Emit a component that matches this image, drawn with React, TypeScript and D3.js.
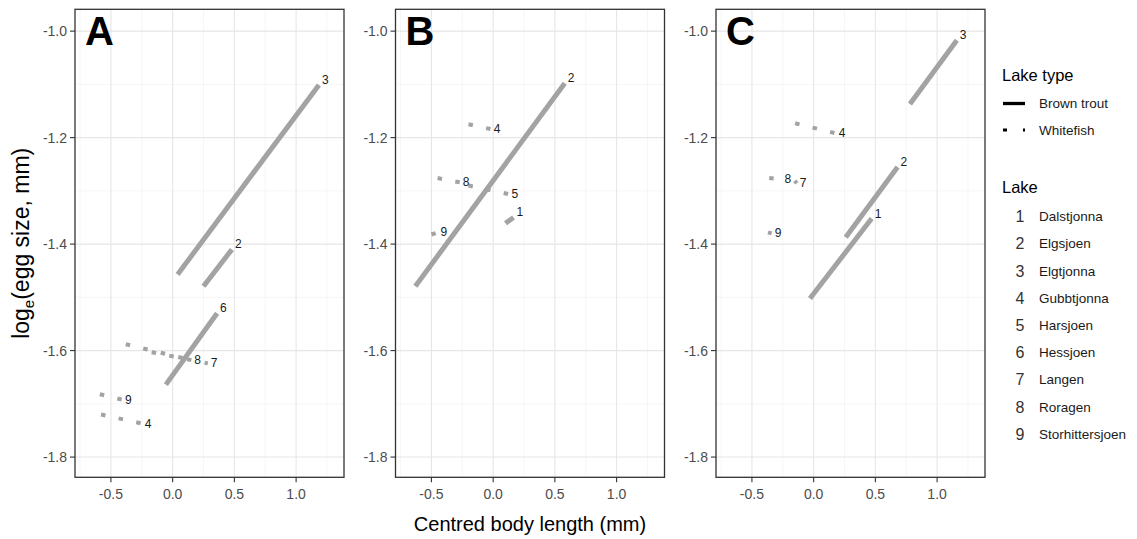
import React from 'react'
import * as d3 from 'd3'

const panelNames = ['A', 'B', 'C']
const lakeNames = [
  'Dalstjonna',
  'Elgsjoen',
  'Elgtjonna',
  'Gubbtjonna',
  'Harsjoen',
  'Hessjoen',
  'Langen',
  'Roragen',
  'Storhittersjoen',
]
const lakeTypes = ['Brown trout', 'Whitefish']
// lake type of lakes 1..9
const lakeTypeOf = [0, 0, 0, 1, 1, 0, 1, 1, 1]

const xTicks = [-0.5, 0, 0.5, 1.0]
const xMinor = [-0.75, -0.25, 0.25, 0.75, 1.25]
const yTicks = [-1.0, -1.2, -1.4, -1.6, -1.8]
const yMinor = [-1.1, -1.3, -1.5, -1.7]

// fitted lines: lake, start (x0, y0), end (x1, y1)
const linesA = [
  { lake: 3, x0: 0.04, y0: -1.457, x1: 1.185, y1: -1.101 },
  { lake: 2, x0: 0.25, y0: -1.479, x1: 0.48, y1: -1.41 },
  { lake: 6, x0: -0.055, y0: -1.664, x1: 0.36, y1: -1.53 },
  { lake: 8, x0: -0.38, y0: -1.588, x1: 0.15, y1: -1.618 },
  { lake: 7, x0: -0.17, y0: -1.603, x1: 0.285, y1: -1.624 },
  { lake: 9, x0: -0.59, y0: -1.682, x1: -0.41, y1: -1.692 },
  { lake: 4, x0: -0.58, y0: -1.72, x1: -0.25, y1: -1.737 },
]
const linesB = [
  { lake: 2, x0: -0.63, y0: -1.479, x1: 0.58, y1: -1.098 },
  { lake: 4, x0: -0.2, y0: -1.175, x1: -0.02, y1: -1.184 },
  { lake: 8, x0: -0.45, y0: -1.276, x1: -0.27, y1: -1.284 },
  { lake: 5, x0: -0.2, y0: -1.29, x1: 0.125, y1: -1.306 },
  { lake: 1, x0: 0.1, y0: -1.361, x1: 0.165, y1: -1.35 },
  { lake: 9, x0: -0.5, y0: -1.382, x1: -0.45, y1: -1.378 },
]
const linesC = [
  { lake: 3, x0: 0.78, y0: -1.137, x1: 1.16, y1: -1.017 },
  { lake: 2, x0: 0.26, y0: -1.387, x1: 0.68, y1: -1.255 },
  { lake: 1, x0: -0.03, y0: -1.502, x1: 0.47, y1: -1.352 },
  { lake: 4, x0: -0.15, y0: -1.173, x1: 0.18, y1: -1.192 },
  { lake: 8, x0: -0.36, y0: -1.276, x1: -0.26, y1: -1.278 },
  { lake: 7, x0: -0.153, y0: -1.281, x1: -0.137, y1: -1.286 },
  { lake: 9, x0: -0.37, y0: -1.378, x1: -0.34, y1: -1.38 },
]
const panelLines = [linesA, linesB, linesC]

const W = 1137
const H = 539
const font = "'Liberation Sans', Arial, sans-serif"
const panelTop = 9.3
const panelW = 269
const panelH = 468
const panelLeft = [75, 395.5, 716]
const lineGrey = '#a3a3a3'

// R style tick labels, plain hyphen for the sign
const fmt = (v) => d3.format('.1f')(v).replace('\u2212', '-')

const Panel = ({ name, lines, left }) => {
  const x = d3.scaleLinear().domain([-0.791, 1.388]).range([0, panelW])
  const y = d3.scaleLinear().domain([-1.838, -0.959]).range([panelH, 0])
  return (
    <g transform={`translate(${left},${panelTop})`}>
      <rect width={panelW} height={panelH} fill="white" />
      {xMinor.map((t) => (
        <line key={'xm' + t} x1={x(t)} x2={x(t)} y1={0} y2={panelH} stroke="#f0f0f0" strokeWidth={0.6} />
      ))}
      {yMinor.map((t) => (
        <line key={'ym' + t} x1={0} x2={panelW} y1={y(t)} y2={y(t)} stroke="#f0f0f0" strokeWidth={0.6} />
      ))}
      {xTicks.map((t) => (
        <line key={'xg' + t} x1={x(t)} x2={x(t)} y1={0} y2={panelH} stroke="#e6e6e6" strokeWidth={1.1} />
      ))}
      {yTicks.map((t) => (
        <line key={'yg' + t} x1={0} x2={panelW} y1={y(t)} y2={y(t)} stroke="#e6e6e6" strokeWidth={1.1} />
      ))}

      {lines.map((d, i) => {
        const dotted = lakeTypeOf[d.lake - 1] === 1
        return (
          <line
            key={'l' + i}
            x1={x(d.x0)}
            y1={y(d.y0)}
            x2={x(d.x1)}
            y2={y(d.y1)}
            stroke={lineGrey}
            strokeWidth={dotted ? 4 : 5}
            strokeDasharray={dotted ? '4.5 13.5' : undefined}
          />
        )
      })}
      {lines.map((d, i) => {
        const dotted = lakeTypeOf[d.lake - 1] === 1
        return (
          <text
            key={'t' + i}
            x={x(d.x1) + 3}
            y={y(d.y1) + (dotted ? 0 : -5)}
            dominantBaseline="central"
            fontSize={12}
            fill="#1a1a1a"
          >
            {d.lake}
          </text>
        )
      })}

      <rect width={panelW} height={panelH} fill="none" stroke="#333" strokeWidth={1.3} />

      {yTicks.map((t) => (
        <g key={'yt' + t} transform={`translate(0,${y(t)})`}>
          <line x1={-5} x2={0} stroke="#333" strokeWidth={1.1} />
          <text x={-8} textAnchor="end" dominantBaseline="central" fontSize={14} fill="#4d4d4d">
            {fmt(t)}
          </text>
        </g>
      ))}
      {xTicks.map((t) => (
        <g key={'xt' + t} transform={`translate(${x(t)},${panelH})`}>
          <line y1={0} y2={5} stroke="#333" strokeWidth={1.1} />
          <text y={22} textAnchor="middle" fontSize={14} fill="#4d4d4d">
            {fmt(t)}
          </text>
        </g>
      ))}

      <text x={10} y={36} fontSize={40} fontWeight="bold" fill="black">
        {name}
      </text>
    </g>
  )
}

const App = () => {
  const legendRow = d3
    .scalePoint()
    .domain(lakeNames)
    .range([216.7, 216.7 + 27.2 * (lakeNames.length - 1)])
  const typeRow = d3.scalePoint().domain(lakeTypes).range([103.5, 130])
  const plotMid = (panelLeft[0] + panelLeft[2] + panelW) / 2
  const plotMidY = panelTop + panelH / 2

  return (
    <svg
      width={W}
      height={H}
      viewBox={`0 0 ${W} ${H}`}
      style={{ position: 'absolute', left: 0, top: 0, background: 'white', fontFamily: font }}
    >
      <rect width={W} height={H} fill="white" />
      {panelNames.map((p, i) => (
        <Panel key={p} name={p} lines={panelLines[i]} left={panelLeft[i]} />
      ))}

      <text x={plotMid} y={531} textAnchor="middle" fontSize={20} fill="black">
        Centred body length (mm)
      </text>
      <text transform={`translate(29,${plotMidY}) rotate(-90)`} textAnchor="middle" fontSize={23} fill="black">
        log
        <tspan fontSize={15} dy={5}>
          e
        </tspan>
        <tspan dy={-5}>(egg size, mm)</tspan>
      </text>

      {/* legend */}
      <text x={1002} y={81} fontSize={16.5} fill="black">
        Lake type
      </text>
      {lakeTypes.map((t, i) => (
        <g key={t}>
          <line
            x1={1003}
            x2={1025}
            y1={typeRow(t)}
            y2={typeRow(t)}
            stroke="black"
            strokeWidth={i === 0 ? 3.3 : 3}
            strokeDasharray={i === 0 ? undefined : '4 16'}
          />
          <text x={1039} y={typeRow(t)} dominantBaseline="central" fontSize={13.5} fill="#1a1a1a">
            {t}
          </text>
        </g>
      ))}
      <text x={1002} y={193} fontSize={16.5} fill="black">
        Lake
      </text>
      {lakeNames.map((l, i) => (
        <g key={l}>
          <text x={1020} y={legendRow(l)} textAnchor="middle" dominantBaseline="central" fontSize={16} fill="#333">
            {i + 1}
          </text>
          <text x={1039} y={legendRow(l)} dominantBaseline="central" fontSize={13.5} fill="#1a1a1a">
            {l}
          </text>
        </g>
      ))}
    </svg>
  )
}

export default App
